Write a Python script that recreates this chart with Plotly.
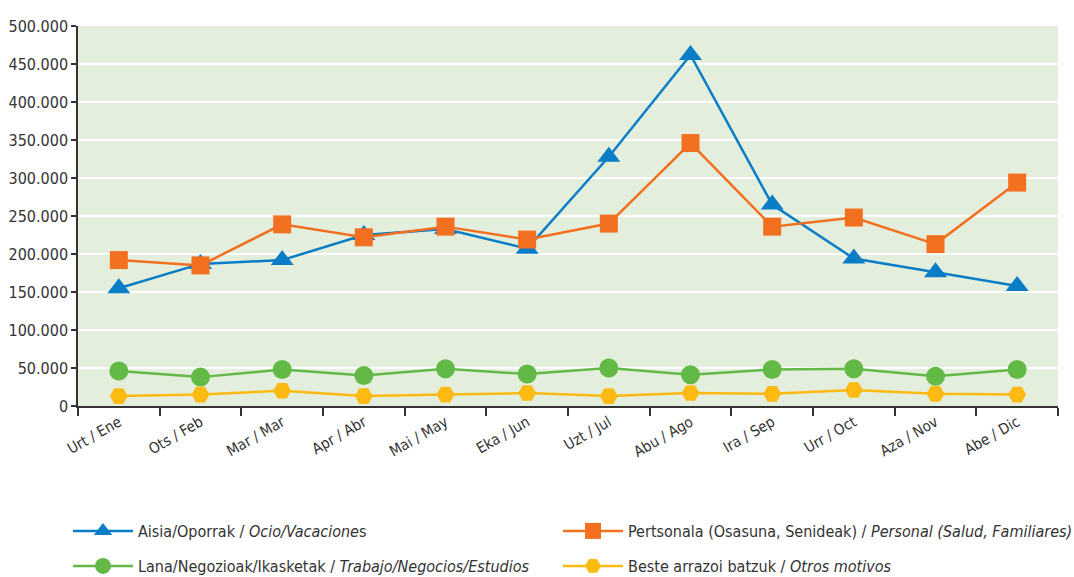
import plotly.graph_objects as go

months = ["Urt / Ene", "Ots / Feb", "Mar / Mar", "Apr / Abr", "Mai / May", "Eka / Jun",
          "Uzt / Jul", "Abu / Ago", "Ira / Sep", "Urr / Oct", "Aza / Nov", "Abe / Dic"]
ocio = [155000, 187000, 192000, 225000, 233000, 207000, 328000, 462000, 265000, 194000, 176000, 158000]
personal = [192000, 185000, 239000, 222000, 236000, 219000, 240000, 346000, 236000, 248000, 213000, 294000]
trabajo = [46000, 38000, 48000, 40000, 49000, 42000, 50000, 41000, 48000, 49000, 39000, 48000]
otros = [13000, 15000, 20000, 13000, 15000, 17000, 13000, 17000, 16000, 21000, 16000, 15000]

names = ["Aisia/Oporrak / <i>Ocio/Vacacione</i>s",
         "Pertsonala (Osasuna, Senideak) / <i>Personal (Salud, Familiares)</i>",
         "Lana/Negozioak/Ikasketak / <i>Trabajo/Negocios/Estudios</i>",
         "Beste arrazoi batzuk / <i>Otros motivos</i>"]
series = [ocio, personal, trabajo, otros]
colors = ["#0A7DC6", "#F37021", "#63B946", "#FDBA12"]
symbols = ["triangle-up", "square", "circle", "hexagon2"]
sizes = [20, 18, 19, 18]
legend_ids = ["legend", "legend2", "legend3", "legend4"]

FONT = "DejaVu Sans Condensed, Liberation Sans Narrow, sans-serif"
TXT = "#333333"
W, H = 1074, 577

fig = go.Figure()
for n, s, c, sym, sz, lg in zip(names, series, colors, symbols, sizes, legend_ids):
    fig.add_trace(go.Scatter(x=months, y=s, name=n, mode="lines+markers",
                             line=dict(color=c, width=2.5),
                             marker=dict(symbol=sym, size=sz, color=c),
                             legend=lg))

def lx(px):
    return px / W

def ly(px):
    return 1 - px / H

leg_common = dict(orientation="h", xanchor="left", yanchor="middle",
                  xref="container", yref="container", itemwidth=60,
                  font=dict(family=FONT, size=16, color=TXT),
                  bgcolor="rgba(0,0,0,0)", borderwidth=0)

fig.update_layout(
    width=W, height=H,
    margin=dict(l=78, r=16, t=26, b=171, autoexpand=False),
    paper_bgcolor="white", plot_bgcolor="#E4EEDC",
    separators=",.",
    font=dict(family=FONT, size=16, color=TXT),
    showlegend=True,
    legend=dict(x=lx(68), y=ly(531), **leg_common),
    legend2=dict(x=lx(558), y=ly(531), **leg_common),
    legend3=dict(x=lx(68), y=ly(566), **leg_common),
    legend4=dict(x=lx(558), y=ly(566), **leg_common),
)
fig.update_xaxes(type="category", range=[-0.5, 11.5], tickangle=-30,
                 ticks="outside", ticklen=8, tickwidth=1.5, tickcolor=TXT,
                 tickson="boundaries", showline=True, linecolor=TXT, linewidth=1.5,
                 showgrid=False, tickfont=dict(family=FONT, size=15, color=TXT))
fig.update_yaxes(range=[0, 500000], dtick=50000, tickformat=",d",
                 ticks="outside", ticklen=5, tickwidth=1.5, tickcolor=TXT,
                 showline=True, linecolor=TXT, linewidth=1.5,
                 showgrid=True, gridcolor="white", gridwidth=2, zeroline=False,
                 tickfont=dict(family=FONT, size=16, color=TXT))

fig.write_html("out.html", config={"displayModeBar": False},
               post_script="document.body.style.margin='0';")
